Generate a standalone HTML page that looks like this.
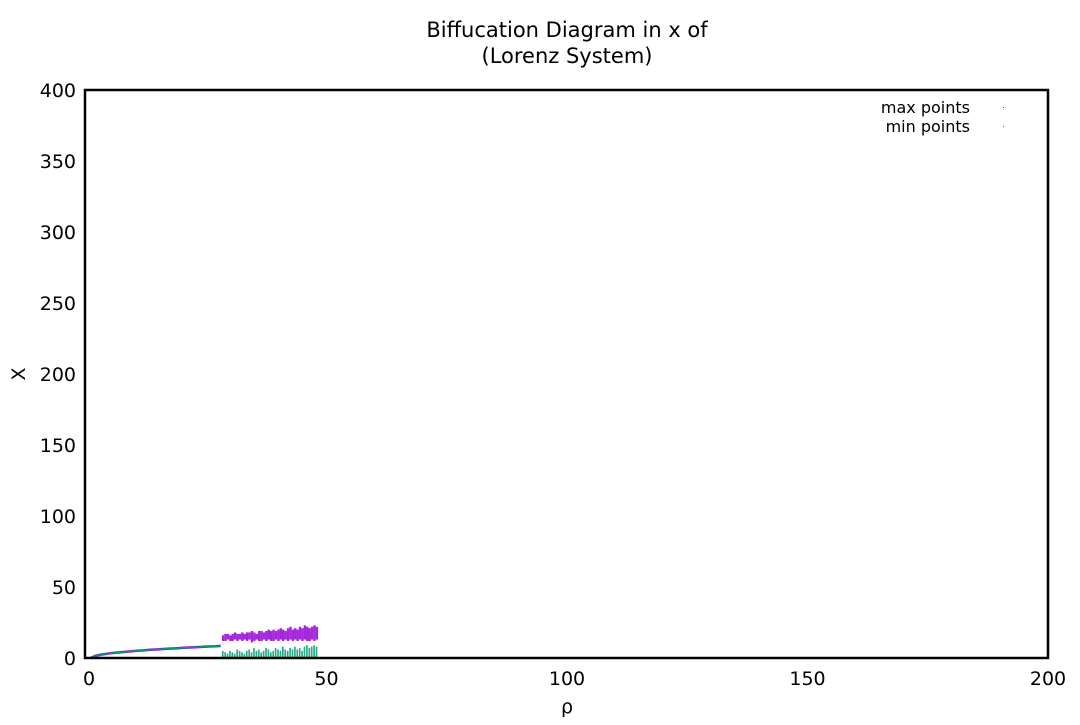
<!DOCTYPE html>
<html><head><meta charset="utf-8"><style>
body{margin:0;background:#fff;}
svg text{font-family:"DejaVu Sans","Liberation Sans",sans-serif;fill:#000;}
</style></head><body>
<svg id="chart" width="1080" height="720" xmlns="http://www.w3.org/2000/svg">
<rect width="1080" height="720" fill="#fff"/>
<text x="567" y="37" font-size="21" text-anchor="middle">Biffucation Diagram in x of</text>
<text x="567" y="63" font-size="21" text-anchor="middle">(Lorenz System)</text>
<text x="567" y="713" font-size="19" text-anchor="middle">ρ</text>
<text x="25" y="374" font-size="19" text-anchor="middle" transform="rotate(-90 25 374)">X</text>
<g id="ticks"></g>
<g id="marks"></g>
<rect x="85" y="90" width="963" height="568" fill="none" stroke="#000" stroke-width="2.5"/>
<g>
<text x="970" y="113" font-size="16" text-anchor="end">max points</text>
<rect x="1003" y="107" width="1" height="1" fill="#9400d3"/>
<text x="970" y="132" font-size="16" text-anchor="end">min points</text>
<rect x="1003" y="126" width="1" height="1" fill="#009e73"/>
</g>
</svg>
<script>
const xTicks=[0,50,100,150,200];
const yTicks=[0,50,100,150,200,250,300,350,400];
const stableRho=[1,2,3,4,5,6,7,8,9,10,11,12,13,14,15,16,17,18,19,20,21,22,23,24,25,26,27,28];
const stableX=[0,1.6,2.3,2.8,3.3,3.7,4,4.3,4.6,4.9,5.2,5.4,5.7,5.9,6.1,6.3,6.5,6.7,6.9,7.1,7.3,7.5,7.7,7.8,8.0,8.2,8.3,8.5];
const chaosRho=[28.5,29,29.5,30,30.5,31,31.5,32,32.5,33,33.5,34,34.5,35,35.5,36,36.5,37,37.5,38,38.5,39,39.5,40,40.5,41,41.5,42,42.5,43,43.5,44,44.5,45,45.5,46,46.5,47,47.5,48];
const maxHi=[16,17,17,16,17,18,17,17,18,17,18,18,19,18,17,19,19,18,19,20,19,20,19,20,21,20,19,21,22,20,21,20,22,21,23,22,21,22,23,22];
const maxLo=[12,12,13,12,12,13,12,13,12,13,12,13,11,12,13,12,12,13,12,13,12,12,13,12,13,12,13,12,13,12,13,12,13,12,13,12,12,13,12,13];
const minHi=[5,4,3,5,4,3,6,5,4,3,5,6,4,7,5,6,4,5,7,6,4,5,7,6,5,8,6,5,7,6,8,6,7,5,8,9,7,8,9,8];
const X0=86,X1=1048,Y0=658,Y1=90;
const sx=v=>X0+(X1-X0)*v/200, sy=v=>Y0-(Y0-Y1)*v/400;
const NS="http://www.w3.org/2000/svg";
const tg=document.getElementById('ticks'), mg=document.getElementById('marks');
xTicks.forEach(t=>{
  const tx=document.createElementNS(NS,'text');
  
  
  tx.setAttribute('x',sx(t)+(t===0?3:0));tx.setAttribute('y',685);tx.setAttribute('font-size','19');tx.setAttribute('text-anchor','middle');
  tx.textContent=t;tg.appendChild(tx);
});
yTicks.forEach(t=>{
  const tx=document.createElementNS(NS,'text');
  
  
  tx.setAttribute('x',76);tx.setAttribute('y',sy(t)+7);tx.setAttribute('font-size','19');tx.setAttribute('text-anchor','end');
  tx.textContent=t;tg.appendChild(tx);
});
let pts=stableRho.map((r,i)=>sx(r)+','+sy(stableX[i])).join(' ');
['#9400d3','#009e73'].forEach((c,k)=>{
  const pl=document.createElementNS(NS,'polyline');
  
  
  pl.setAttribute('points',pts);pl.setAttribute('fill','none');pl.setAttribute('stroke',c);pl.setAttribute('stroke-width',k?1.5:2.5);
  mg.appendChild(pl);
});
const w=(sx(0.5)-sx(0));
chaosRho.forEach((r,i)=>{
  const a=document.createElementNS(NS,'rect');
  
  
  a.setAttribute('x',sx(r)-w/2);a.setAttribute('width',w);
  a.setAttribute('y',sy(maxHi[i]));a.setAttribute('height',sy(maxLo[i])-sy(maxHi[i]));
  a.setAttribute('fill','#9400d3');a.setAttribute('opacity','0.85');mg.appendChild(a);
  const b=document.createElementNS(NS,'rect');
  
  
  b.setAttribute('x',sx(r)-w/2);b.setAttribute('width',w*0.7);
  b.setAttribute('y',sy(minHi[i]));b.setAttribute('height',sy(0)-sy(minHi[i]));
  b.setAttribute('fill','#009e73');b.setAttribute('opacity','0.85');mg.appendChild(b);
});
</script>
</body></html>
